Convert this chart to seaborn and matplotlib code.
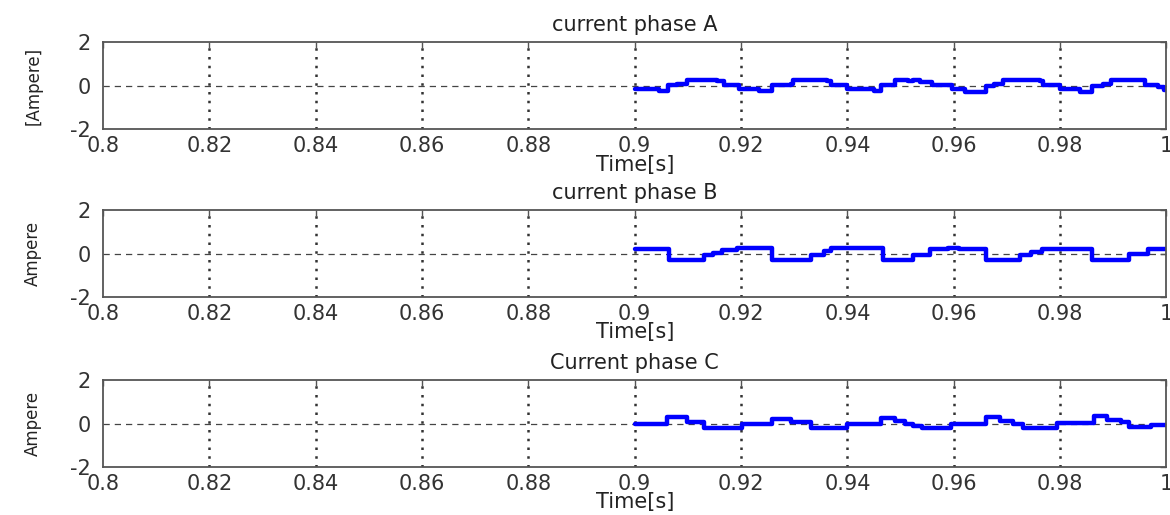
import numpy as np
import pandas as pd
import matplotlib
matplotlib.use("Agg")
import matplotlib.pyplot as plt
import seaborn as sns

# step breakpoints (time in s, current in A)
t_a = [0.9000, 0.9045, 0.9063, 0.9079, 0.9098, 0.9155, 0.9167, 0.9196, 0.9233, 0.9258,
       0.9293, 0.9298, 0.9362, 0.9369, 0.9400, 0.9450, 0.9463, 0.9489, 0.9514, 0.9524,
       0.9537, 0.9559, 0.9597, 0.9622, 0.9660, 0.9675, 0.9692, 0.9762, 0.9768, 0.9800,
       0.9838, 0.9860, 0.9880, 0.9895, 0.9959, 0.9984, 0.9995, 1.0000]
i_a = [-0.15, -0.25, 0.03, 0.08, 0.28, 0.20, 0.05, -0.15, -0.23, 0.05,
       0.10, 0.28, 0.20, 0.03, -0.15, -0.25, 0.05, 0.28, 0.20, 0.27,
       0.15, 0.02, -0.15, -0.28, 0.00, 0.08, 0.28, 0.20, 0.03, -0.15,
       -0.28, 0.00, 0.08, 0.28, 0.05, -0.05, -0.20, -0.20]

t_b = [0.9000, 0.9064, 0.9130, 0.9148, 0.9164, 0.9192, 0.9258, 0.9331, 0.9356, 0.9369,
       0.9466, 0.9524, 0.9556, 0.9590, 0.9610, 0.9660, 0.9724, 0.9745, 0.9765, 0.9860,
       0.9930, 0.9965, 1.0000]
i_b = [0.23, -0.27, -0.08, 0.05, 0.18, 0.25, -0.27, -0.05, 0.10, 0.27,
       -0.30, -0.08, 0.23, 0.28, 0.23, -0.30, -0.05, 0.08, 0.23, -0.30,
       0.00, 0.23, 0.23]

t_c = [0.9000, 0.9060, 0.9098, 0.9130, 0.9202, 0.9258, 0.9293, 0.9331, 0.9400, 0.9463,
       0.9489, 0.9508, 0.9524, 0.9540, 0.9594, 0.9660, 0.9686, 0.9711, 0.9730, 0.9794,
       0.9863, 0.9889, 0.9914, 0.9930, 0.9971, 1.0000]
i_c = [0.00, 0.30, 0.05, -0.20, 0.00, 0.23, 0.05, -0.20, 0.00, 0.27,
       0.10, 0.00, -0.12, -0.20, 0.00, 0.30, 0.12, 0.00, -0.20, 0.02,
       0.33, 0.18, 0.08, -0.15, -0.08, -0.08]

titles = ['current phase A', 'current phase B', 'Current phase C']
ylabels = ['[Ampere]', 'Ampere', 'Ampere']
x_ticks = [0.8, 0.82, 0.84, 0.86, 0.88, 0.9, 0.92, 0.94, 0.96, 0.98, 1.0]
y_ticks = [-2, 0, 2]

df = pd.concat([
    pd.DataFrame({'time': t_a, 'current': i_a, 'phase': 'A'}),
    pd.DataFrame({'time': t_b, 'current': i_b, 'phase': 'B'}),
    pd.DataFrame({'time': t_c, 'current': i_c, 'phase': 'C'}),
], ignore_index=True)

sns.set_style("white")
plt.rcParams['font.family'] = ['DejaVu Sans']
plt.rcParams['axes.unicode_minus'] = False

fig = plt.figure(figsize=(11.7, 5.15), dpi=100)
bottoms = [0.749, 0.423, 0.093]

for k, phase in enumerate(['A', 'B', 'C']):
    ax = fig.add_axes([0.088, bottoms[k], 0.909, 0.169])
    sub = df[df['phase'] == phase]
    sns.lineplot(data=sub, x='time', y='current', drawstyle='steps-post',
                 color='#0000ff', linewidth=3.2, estimator=None, sort=False,
                 ax=ax, legend=False)
    ax.set_xlim(0.8, 1.0)
    ax.set_ylim(-2, 2)
    ax.set_xticks(x_ticks)
    ax.set_xticklabels([f'{v:g}' for v in x_ticks])
    ax.set_yticks(y_ticks)

    # matlab-like grid: dotted verticals, dashed zero line
    ax.grid(False)
    for xv in x_ticks[1:-1]:
        ax.axvline(xv, color='#333333', linestyle=(0, (1, 2.5)), linewidth=1.8, zorder=0)
    ax.axhline(0, color='#444444', linestyle=(0, (5, 4)), linewidth=0.9, zorder=0)

    for s in ax.spines.values():
        s.set_color('#555555')
        s.set_linewidth(1.3)
    ax.tick_params(direction='in', length=4, width=1, colors='#555555',
                   labelcolor='#333333', labelsize=15, top=True, right=True)
    ax.tick_params(axis='x', pad=5)
    ax.tick_params(axis='y', pad=9)

    ax.set_title(titles[k], fontsize=15, pad=8, color='#222222')
    ax.set_xlabel('Time[s]', fontsize=15, color='#222222', va='top')
    ax.xaxis.set_label_coords(0.5, -0.29)
    ax.set_ylabel(ylabels[k], fontsize=12, color='#222222')
    ax.yaxis.set_label_coords(-0.057, 0.5)

fig.savefig('out.png', dpi=100)
